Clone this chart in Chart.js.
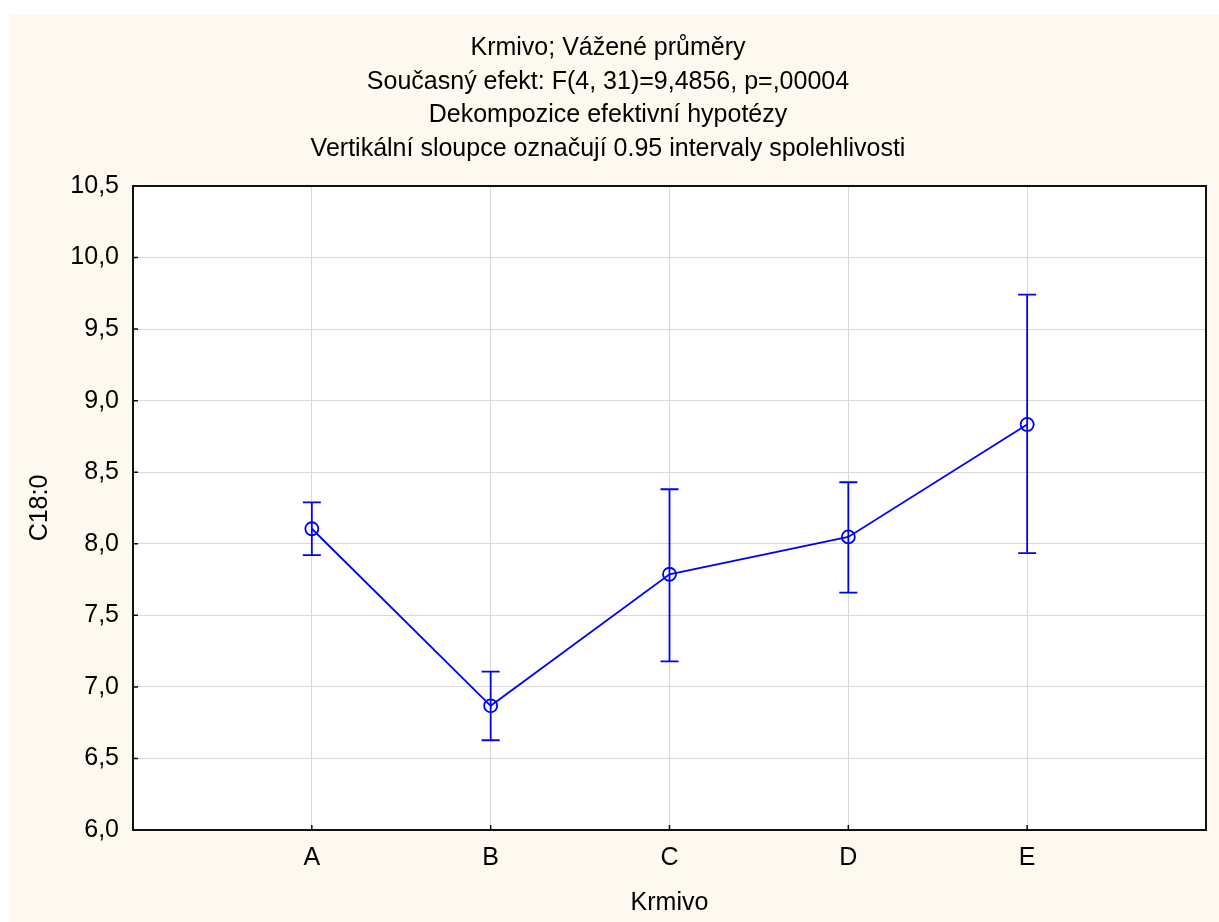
<!DOCTYPE html>
<html>
<head>
<meta charset="utf-8">
<script src="https://cdn.jsdelivr.net/npm/chart.js@4.4.0/dist/chart.umd.min.js"></script>
<style>
    html, body { margin: 0; padding: 0; background: #ffffff; }
    #wrap { position: absolute; left: 9px; top: 15px; width: 1210px; height: 907px; background: #fef9ee; }
</style>
</head>
<body>
<div id="wrap"><canvas id="meansChart"></canvas></div>
<script>
// --- Krmivo: weighted means with 0.95 confidence intervals ---

const categories = ['A', 'B', 'C', 'D', 'E'];
const catPositions = [1, 2, 3, 4, 5];
const means = [8.105, 6.868, 7.787, 8.048, 8.834];
const upperCI = [8.29, 7.107, 8.381, 8.43, 9.741];
const lowerCI = [7.921, 6.627, 7.178, 7.659, 7.934];

const titleLines = [
    'Krmivo; Vážené průměry',
    'Současný efekt: F(4, 31)=9,4856, p=,00004',
    'Dekompozice efektivní hypotézy',
    'Vertikální sloupce označují 0.95 intervaly spolehlivosti'
];

const BLUE = '#0000ff';

Chart.defaults.font.family = '"Liberation Sans", Arial, sans-serif';
Chart.defaults.color = '#000000';

// white plot area, frame, inside ticks and the error bars
const framePlugin = {
    id: 'frame',
    beforeDraw(chart) {
        const { ctx, chartArea: a } = chart;
        ctx.save();
        ctx.fillStyle = '#ffffff';
        ctx.fillRect(a.left, a.top, a.right - a.left, a.bottom - a.top);
        ctx.restore();
    },
    afterDatasetsDraw(chart) {
        const { ctx, scales } = chart;
        ctx.save();
        ctx.strokeStyle = BLUE;
        ctx.lineWidth = 1.8;
        catPositions.forEach((p, i) => {
            const x = scales.x.getPixelForValue(p);
            const yTop = scales.y.getPixelForValue(upperCI[i]);
            const yBot = scales.y.getPixelForValue(lowerCI[i]);
            ctx.beginPath();
            ctx.moveTo(x, yTop); ctx.lineTo(x, yBot);
            ctx.moveTo(x - 9, yTop); ctx.lineTo(x + 9, yTop);
            ctx.moveTo(x - 9, yBot); ctx.lineTo(x + 9, yBot);
            ctx.stroke();
        });
        ctx.restore();
    },
    afterDraw(chart) {
        const { ctx, chartArea: a, scales } = chart;
        ctx.save();
        ctx.strokeStyle = '#111111';
        ctx.lineWidth = 1.5;
        ctx.beginPath();
        scales.y.ticks.forEach(t => {
            const y = scales.y.getPixelForValue(t.value);
            ctx.moveTo(a.left, y); ctx.lineTo(a.left + 5, y);
        });
        catPositions.forEach(p => {
            const x = scales.x.getPixelForValue(p);
            ctx.moveTo(x, a.bottom); ctx.lineTo(x, a.bottom - 5);
        });
        ctx.stroke();
        ctx.lineWidth = 2;
        ctx.strokeRect(a.left, a.top, a.right - a.left, a.bottom - a.top);
        ctx.restore();
    }
};

const ctx = document.getElementById('meansChart');
const chart = new Chart(ctx, {
    type: 'line',
    data: {
        datasets: [{
            label: 'C18:0',
            data: catPositions.map((p, i) => ({ x: p, y: means[i] })),
            borderColor: BLUE,
            borderWidth: 1.8,
            pointRadius: 6.5,
            pointBorderWidth: 1.8,
            pointBorderColor: BLUE,
            pointBackgroundColor: 'rgba(0,0,0,0)',
            pointStyle: 'circle',
            tension: 0,
            fill: false
        }]
    },
    options: {
        responsive: true,
        maintainAspectRatio: false,
        animation: false,
        layout: { padding: { left: 0, right: 12, top: 0, bottom: 0 } },
        plugins: {
            legend: { display: false },
            tooltip: { enabled: false },
            title: {
                display: true,
                text: titleLines,
                color: '#000000',
                font: { size: 25, weight: 'normal', lineHeight: 1.352 },
                padding: { top: 16, bottom: 19.8 }
            }
        },
        scales: {
            x: {
                type: 'linear',
                min: 0,
                max: 6,
                afterFit(scale) { scale.height = 92; },
                afterBuildTicks(scale) {
                    scale.ticks = [0, 1, 2, 3, 4, 5, 6].map(v => ({ value: v }));
                },
                ticks: {
                    autoSkip: false,
                    maxRotation: 0,
                    padding: 13,
                    font: { size: 25 },
                    color: '#000000',
                    callback: v => categories[catPositions.indexOf(v)] || ''
                },
                grid: {
                    color: c => (c.tick && (c.tick.value === 0 || c.tick.value === 6)) ? 'rgba(0,0,0,0)' : '#d9d9d9',
                    lineWidth: 1,
                    drawTicks: false,
                    tickLength: 0
                },
                border: { display: false },
                title: {
                    display: true,
                    text: 'Krmivo',
                    color: '#000000',
                    font: { size: 25 },
                    padding: { top: 0, bottom: 3.5 }
                }
            },
            y: {
                min: 6,
                max: 10.5,
                afterFit(scale) { scale.width = 124; },
                ticks: {
                    stepSize: 0.5,
                    padding: 14,
                    font: { size: 25 },
                    color: '#000000',
                    callback: v => v.toFixed(1).replace('.', ',')
                },
                grid: {
                    color: '#d9d9d9',
                    lineWidth: 1,
                    drawTicks: false,
                    tickLength: 0
                },
                border: { display: false },
                title: {
                    display: true,
                    text: 'C18:0',
                    color: '#000000',
                    font: { size: 25 },
                    padding: { top: 16.5, bottom: 0 }
                }
            }
        }
    },
    plugins: [framePlugin]
});
</script>
</body>
</html>
